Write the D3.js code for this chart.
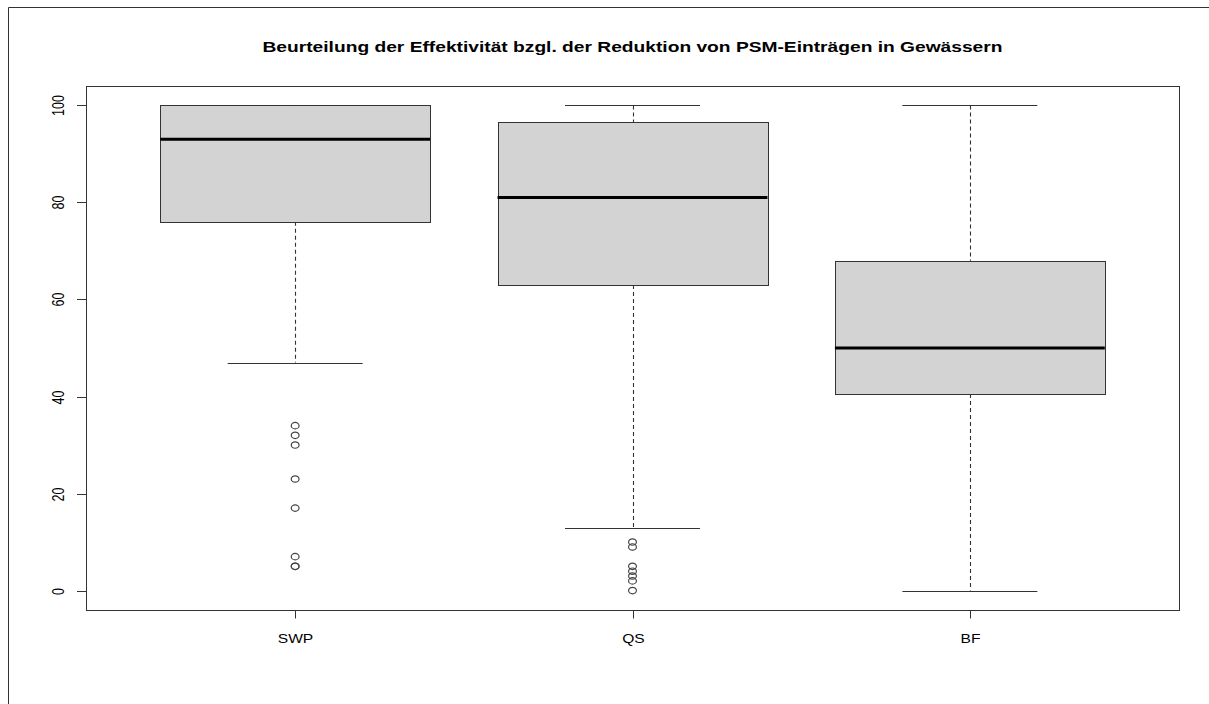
<!DOCTYPE html>
<html>
<head>
<meta charset="utf-8">
<script src="https://cdn.jsdelivr.net/npm/d3@7"></script>
<style>
  html, body { margin: 0; padding: 0; background: #fff; }
  svg { display: block; font-family: "Liberation Sans", Arial, sans-serif; }
</style>
</head>
<body>
<svg id="chart" width="1209" height="704"></svg>
<script>
// Box statistics per measure (percent effectiveness)
const categories   = ["SWP", "QS", "BF"];
const whiskerLow   = [47, 13, 0];
const lowerQuart   = [76, 63, 40.5];
const medians      = [93, 81, 50];
const upperQuart   = [100, 96.5, 68];
const whiskerHigh  = [100, 100, 100];
const outliersSWP  = [34, 32, 30, 23, 17, 7, 5, 5];
const outliersQS   = [10, 9, 5, 4, 3, 2, 0];
const outliersBF   = [];
const yTicks       = [0, 20, 40, 60, 80, 100];
const title = "Beurteilung der Effektivität bzgl. der Reduktion von PSM-Einträgen in Gewässern";

const outliers = [outliersSWP, outliersQS, outliersBF];
const boxes = categories.map((c, i) => ({
  name: c, idx: i + 1,
  lo: whiskerLow[i], q1: lowerQuart[i], med: medians[i],
  q3: upperQuart[i], hi: whiskerHigh[i], out: outliers[i]
}));

const svg = d3.select("#chart");
const ink = "#333";
const sx = 1.25;                         // horizontal stretch of the device text
const plot = { left: 86, top: 86, right: 1179, bottom: 610 };

// R-style extended ranges (4% padding on both axes)
const x = d3.scaleLinear().domain([0.38, 3.62]).range([plot.left, plot.right]);
const y = d3.scaleLinear().domain([-4, 104]).range([plot.bottom, plot.top]);
const boxHalf = x(1.4) - x(1);          // half width of a box (0.4 units)
const capHalf = boxHalf / 2;

// outer figure frame
svg.append("path")
  .attr("d", "M8.5,704 L8.5,7.5 L1209,7.5")
  .attr("fill", "none").attr("stroke", ink).attr("stroke-width", 1);

// title
svg.append("text")
  .attr("x", (plot.left + plot.right) / 2).attr("y", 52)
  .attr("text-anchor", "middle")
  .attr("font-weight", "bold").attr("font-size", 15)
  .attr("textLength", 740).attr("lengthAdjust", "spacingAndGlyphs")
  .attr("fill", "#000")
  .text(title);

const g = svg.append("g");

// whiskers (dashed)
g.selectAll(".whisk-hi").data(boxes).join("line")
  .attr("x1", d => Math.round(x(d.idx)) + 0.5).attr("x2", d => Math.round(x(d.idx)) + 0.5)
  .attr("y1", d => y(d.hi)).attr("y2", d => y(d.q3))
  .attr("stroke", ink).attr("stroke-width", 1.1).attr("stroke-dasharray", "4,3");
g.selectAll(".whisk-lo").data(boxes).join("line")
  .attr("x1", d => Math.round(x(d.idx)) + 0.5).attr("x2", d => Math.round(x(d.idx)) + 0.5)
  .attr("y1", d => y(d.q1)).attr("y2", d => y(d.lo))
  .attr("stroke", ink).attr("stroke-width", 1.1).attr("stroke-dasharray", "4,3");

// staples
["hi", "lo"].forEach(k => {
  g.selectAll(".cap-" + k).data(boxes).join("line")
    .attr("x1", d => x(d.idx) - capHalf).attr("x2", d => x(d.idx) + capHalf)
    .attr("y1", d => Math.round(y(d[k])) + 0.5).attr("y2", d => Math.round(y(d[k])) + 0.5)
    .attr("stroke", ink);
});

// boxes
g.selectAll(".box").data(boxes).join("rect")
  .attr("x", d => Math.round(x(d.idx) - boxHalf) + 0.5)
  .attr("width", Math.round(2 * boxHalf))
  .attr("y", d => Math.round(y(d.q3)) + 0.5)
  .attr("height", d => Math.round(y(d.q1)) - Math.round(y(d.q3)))
  .attr("fill", "#d3d3d3").attr("stroke", ink);

// medians
g.selectAll(".med").data(boxes).join("line")
  .attr("x1", d => x(d.idx) - boxHalf).attr("x2", d => x(d.idx) + boxHalf)
  .attr("y1", d => y(d.med)).attr("y2", d => y(d.med))
  .attr("stroke", "#000").attr("stroke-width", 3);

// outliers (open circles, horizontally stretched like the text)
boxes.forEach(b => {
  g.selectAll(null).data(b.out).join("ellipse")
    .attr("cx", x(b.idx)).attr("cy", v => y(v)).attr("rx", 3.9).attr("ry", 3.2)
    .attr("fill", "none").attr("stroke", "#444").attr("stroke-width", 1.2);
});

// plot frame
svg.append("rect")
  .attr("x", plot.left + 0.5).attr("y", plot.top + 0.5)
  .attr("width", plot.right - plot.left).attr("height", plot.bottom - plot.top)
  .attr("fill", "none").attr("stroke", ink);

// y axis
const yAxis = svg.append("g");
yTicks.forEach(t => {
  const yy = Math.round(y(t)) + 0.5;
  yAxis.append("line").attr("x1", plot.left - 9).attr("x2", plot.left + 0.5)
    .attr("y1", yy).attr("y2", yy).attr("stroke", ink);
  yAxis.append("text")
    .attr("transform", `translate(58.5,${yy}) scale(${sx},1) rotate(-90)`)
    .attr("text-anchor", "middle").attr("dy", "0.36em")
    .attr("font-size", 12.5).attr("fill", "#000")
    .text(t);
});

// x axis
const xAxis = svg.append("g").attr("transform", `translate(0,${plot.bottom + 0.5})`);
boxes.forEach(b => {
  const xx = Math.round(x(b.idx)) + 0.5;
  xAxis.append("line").attr("x1", xx).attr("x2", xx).attr("y1", 0).attr("y2", 8).attr("stroke", ink);
  xAxis.append("text")
    .attr("transform", `translate(${xx},32) scale(${sx},1)`)
    .attr("text-anchor", "middle")
    .attr("font-size", 12.5).attr("fill", "#000")
    .text(b.name);
});
</script>
</body>
</html>
